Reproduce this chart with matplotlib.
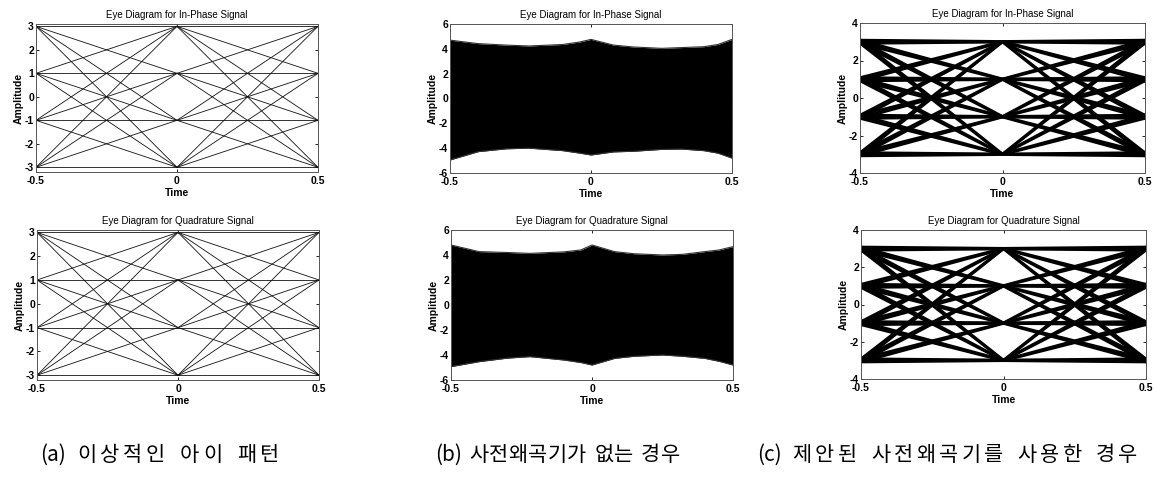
import matplotlib
matplotlib.use("Agg")
import matplotlib.pyplot as plt
import numpy as np

plt.rcParams['font.family'] = ['Liberation Sans', 'DejaVu Sans']
plt.rcParams['axes.unicode_minus'] = False

# ---------------- data ----------------
levels = [-3, -1, 1, 3]                      # symbol amplitude levels
sym_times = [-0.5, 0.0, 0.5]                 # symbol sampling instants
xticks = [-0.5, 0, 0.5]
xtick_labels = ['-0.5', '0', '0.5']

yticks_a = [-3, -2, -1, 0, 1, 2, 3]
yticks_b = [-6, -4, -2, 0, 2, 4, 6]
yticks_c = [-4, -2, 0, 2, 4]

# (b) envelope of the smeared eye
env_t = [-0.5, -0.4, -0.3, -0.22, -0.1, -0.04, 0.0, 0.08, 0.15, 0.25, 0.32, 0.4, 0.45, 0.5]
env_up_I = [4.7, 4.42, 4.3, 4.23, 4.35, 4.55, 4.76, 4.3, 4.15, 4.04, 4.1, 4.17, 4.35, 4.76]
env_lo_I = [-4.95, -4.28, -4.05, -4.0, -4.2, -4.4, -4.55, -4.3, -4.25, -4.1, -4.07, -4.2, -4.4, -4.8]
env_up_Q = [4.8, 4.27, 4.2, 4.13, 4.25, 4.4, 4.8, 4.27, 4.1, 4.0, 4.05, 4.27, 4.4, 4.67]
env_lo_Q = [-4.93, -4.53, -4.25, -4.13, -4.4, -4.6, -4.8, -4.27, -4.1, -4.0, -4.1, -4.27, -4.5, -4.8]

# (c) small ISI spread of each trace bundle (outer end, inner end)
spread_outer = [-0.1, 0.0, 0.1]
spread_inner = [-0.03, 0.0, 0.03]

titles = ['Eye Diagram for In-Phase Signal', 'Eye Diagram for Quadrature Signal']
cap_tags = ['(a)', '(b)', '(c)']
cap_texts = ['이상적인 아이 패턴', '사전왜곡기가 없는 경우', '제안된 사전왜곡기를 사용한 경우']

# ---------------- layout ----------------
W, H = 1154, 479
fig = plt.figure(figsize=(W / 100, H / 100), dpi=100)

def ax_at(l, t, r, b):
    return fig.add_axes([l / W, 1 - b / H, (r - l) / W, (b - t) / H])

boxes = {
    ('a', 0): (36, 24, 318, 172), ('a', 1): (37, 230, 319, 380),
    ('b', 0): (450, 24, 732, 173), ('b', 1): (451, 230, 733, 380),
    ('c', 0): (860, 23, 1145, 173), ('c', 1): (861, 230, 1146, 379),
}

def style(ax, title, yt, ylim):
    ax.set_xlim(-0.5, 0.5)
    ax.set_ylim(*ylim)
    ax.set_xticks(xticks)
    ax.set_xticklabels(xtick_labels)
    ax.set_yticks(yt)
    ax.set_yticklabels([str(v) for v in yt])
    ax.tick_params(direction='in', top=True, right=True, length=2.5, width=0.6,
                   labelsize=7.5, pad=1.5)
    ax.tick_params(axis='x', pad=3)
    for lab in ax.get_xticklabels() + ax.get_yticklabels():
        lab.set_fontweight('bold')
    for s in ax.spines.values():
        s.set_linewidth(0.7)
        s.set_color('#555555')
    ax.set_title(title, fontsize=7, pad=4)
    ax.set_xlabel('Time', fontsize=7.5, labelpad=1, fontweight='semibold')
    ax.set_ylabel('Amplitude', fontsize=7.5, labelpad=1, fontweight='semibold')

# (a) ideal eye
for row in range(2):
    ax = ax_at(*boxes[('a', row)])
    for k in range(2):
        t0, t1 = sym_times[k], sym_times[k + 1]
        for a in levels:
            for b in levels:
                ax.plot([t0, t1], [a, b], color='#111111', lw=0.6)
    style(ax, titles[row], yticks_a, (-3.2, 3.1))

# (b) no predistorter: smeared eye
for row in range(2):
    ax = ax_at(*boxes[('b', row)])
    up = env_up_I if row == 0 else env_up_Q
    lo = env_lo_I if row == 0 else env_lo_Q
    ax.fill_between(env_t, lo, up, color='black', lw=0)
    ax.plot(env_t, up, color='#333333', lw=0.8)
    ax.plot(env_t, lo, color='#333333', lw=0.8)
    style(ax, titles[row], yticks_b, (-6, 6))

# (c) proposed predistorter
for row in range(2):
    ax = ax_at(*boxes[('c', row)])
    for k in range(2):
        t0, t1 = sym_times[k], sym_times[k + 1]
        for a in levels:
            for b in levels:
                for so, si in zip(spread_outer, spread_inner):
                    if k == 0:
                        ya, yb = a + so, b + si
                    else:
                        ya, yb = a + si, b + so
                    ax.plot([t0, t1], [ya, yb], color='black', lw=1.6,
                            solid_capstyle='butt')
    style(ax, titles[row], yticks_c, (-4, 4))

# captions, letter-spaced to span the same width as in the reference
cap_span = [(40, 283), (435, 680), (757, 1141)]
renderer = fig.canvas.get_renderer()
cap_fs = 15
cap_y = 1 - 455 / H
space_w = cap_fs * 1.39 * 0.35
fam = ['Noto Sans CJK KR', 'DejaVu Sans']
for (x0, x1), tag, c in zip(cap_span, cap_tags, cap_texts):
    tag_t = fig.text(x0 / W, cap_y, tag, fontsize=cap_fs, va='center', ha='left', family=fam)
    tag_w = tag_t.get_window_extent(renderer).width
    items = [(None, space_w)]
    for ch in c:
        if ch == ' ':
            items.append((None, space_w))
        else:
            t = fig.text(0, cap_y, ch, fontsize=cap_fs, va='center', ha='left', family=fam)
            items.append((t, t.get_window_extent(renderer).width))
    total = tag_w + sum(w for _, w in items)
    gap = (x1 - x0 - total) / len(items)
    x = x0 + tag_w
    for t, w in items:
        if t is not None:
            t.set_x(x / W)
        x += w + gap

fig.savefig('out.png', dpi=100)
